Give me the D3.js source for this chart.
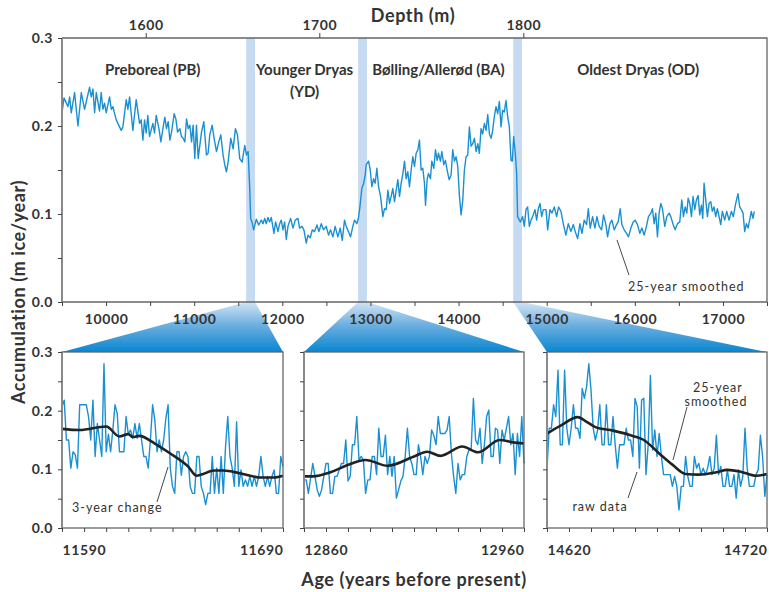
<!DOCTYPE html>
<meta charset="utf-8">
<style>
  body { margin: 0; background: #fff; }
  svg text { font-family: Lato, "Open Sans", sans-serif; fill: #333; }
  .tick text { font-size: 14px; font-weight: 700; fill: #333; letter-spacing: 0.6px; }
  .tick line { stroke: #444; }
  .domain { display: none; }
  .frame { fill: none; stroke: #666; stroke-width: 1.3; }
  .leftline { stroke: #8a8a8a; stroke-width: 2; }
  .raw { fill: none; stroke: #1a90d2; stroke-width: 1.4; stroke-linejoin: round; }
  .smooth { fill: none; stroke: #222; stroke-width: 2.6; }
  .note { font-size: 12.5px; letter-spacing: 1px; }
  .period { font-size: 15px; font-weight: 700; }
  .title { font-size: 18px; font-weight: 700; letter-spacing: 0.6px; }
</style>
<body>
<script src="https://d3js.org/d3.v7.min.js"></script>
<script>
// 25-year smoothed record, [age, accumulation]
var prebSeries = [[9500,0.215],[9523,0.232],[9568,0.222],[9587,0.233],[9605,0.215],[9643,0.238],[9681,0.200],[9719,0.238],[9756,0.219],[9813,0.244],[9832,0.233],[9851,0.242],[9870,0.215],[9889,0.238],[9926,0.217],[9945,0.238],[9964,0.219],[9983,0.226],[10002,0.215],[10040,0.233],[10059,0.219],[10078,0.222],[10115,0.207],[10172,0.195],[10191,0.199],[10229,0.230],[10248,0.219],[10267,0.233],[10304,0.195],[10342,0.230],[10380,0.203],[10399,0.207],[10418,0.184],[10437,0.207],[10455,0.192],[10474,0.212],[10493,0.188],[10531,0.203],[10550,0.192],
  [10569,0.212],[10600,0.197],[10622,0.182],[10645,0.197],[10667,0.210],[10686,0.197],[10705,0.205],[10724,0.184],[10743,0.193],[10773,0.214],[10792,0.208],[10811,0.193],[10837,0.197],[10856,0.188],[10875,0.186],[10894,0.182],[10913,0.208],[10932,0.197],[10951,0.201],[10970,0.182],[10988,0.201],[11007,0.163],[11026,0.201],[11045,0.163],[11064,0.178],[11083,0.193],[11109,0.205],[11139,0.167],[11158,0.169],[11177,0.190],[11204,0.201],[11226,0.186],[11253,0.171],[11279,0.182],[11302,0.190],[11328,0.167],[11347,0.156],[11366,0.148],[11385,0.159],[11415,0.186],[11442,0.174],[11468,0.197],[11491,0.190],[11517,0.163],[11544,0.159],[11574,0.178],[11593,0.167],[11612,0.171]];

var ydSeries = [[11630,0.130],[11641,0.095],[11656,0.091],[11675,0.082],[11705,0.094],[11732,0.0875],[11762,0.093],[11781,0.089],[11800,0.095],[11818,0.089],[11837,0.096],[11856,0.091],[11875,0.096],[11905,0.078],[11924,0.091],[11951,0.080],[11970,0.089],[11988,0.093],[12007,0.082],[12026,0.091],[12045,0.071],[12064,0.086],[12094,0.095],[12121,0.084],[12147,0.093],[12177,0.095],[12196,0.084],[12223,0.086],[12245,0.082],[12272,0.067],[12291,0.076],[12317,0.073],[12340,0.082],[12366,0.080],[12393,0.0875],[12415,0.080],[12442,0.089],[12468,0.082],[12498,0.086],[12525,0.076],[12547,0.082],[12574,0.074],[12600,0.086],[12630,0.074],[12657,0.084],[12680,0.070],[12706,0.093],[12725,0.086],[12751,0.080],[12774,0.074],[12800,0.086],[12819,0.093],[12846,0.089],[12865,0.096],[12884,0.111],[12902,0.129],[12921,0.134],[12940,0.144],[12952,0.156]];

var baSeries = [[12979,0.160],[12998,0.150],[13016,0.131],[13035,0.140],[13054,0.135],[13073,0.152],[13092,0.131],[13115,0.120],[13141,0.097],[13160,0.106],[13179,0.105],[13198,0.127],[13217,0.112],[13235,0.120],[13254,0.129],[13273,0.114],[13292,0.127],[13311,0.139],[13330,0.120],[13349,0.135],[13368,0.146],[13387,0.160],[13405,0.140],[13424,0.148],[13443,0.131],[13462,0.150],[13481,0.165],[13500,0.154],[13519,0.169],[13538,0.173],[13556,0.184],[13575,0.150],[13594,0.152],[13613,0.135],[13625,0.110],[13643,0.139],[13659,0.146],[13681,0.140],[13696,0.160],[13719,0.152],[13738,0.173],[13757,0.161],[13772,0.169],[13794,0.160],[13810,0.171],[13832,0.156],[13851,0.161],[13870,0.150],[13893,0.139],[13915,0.144],[13934,0.173],[13953,0.160],[13972,0.165],[13991,0.154],[14010,0.120],[14029,0.099],[14048,0.116],[14066,0.150],[14085,0.165],[14104,0.167],[14123,0.199],[14142,0.177],[14161,0.180],[14180,0.186],[14199,0.171],[14218,0.180],[14236,0.169],[14255,0.197],[14274,0.191],[14293,0.203],[14312,0.195],[14331,0.213],[14350,0.191],[14369,0.186],[14387,0.195],[14406,0.211],[14425,0.222],[14444,0.214],[14463,0.228],[14482,0.199],[14500,0.218],[14519,0.216],[14538,0.229],[14557,0.211],[14576,0.199],[14595,0.161],[14610,0.160],[14625,0.188],[14644,0.169],[14659,0.146],[14670,0.097],[14690,0.093]];

var odSeries = [[14701,0.091],[14727,0.097],[14746,0.086],[14765,0.105],[14784,0.108],[14803,0.086],[14822,0.093],[14841,0.097],[14867,0.105],[14886,0.093],[14905,0.106],[14924,0.112],[14943,0.097],[14962,0.105],[14992,0.105],[15011,0.082],[15037,0.105],[15060,0.101],[15086,0.108],[15113,0.097],[15135,0.108],[15162,0.103],[15188,0.089],[15218,0.076],[15245,0.089],[15275,0.080],[15302,0.088],[15324,0.080],[15351,0.072],[15377,0.089],[15400,0.078],[15426,0.093],[15453,0.088],[15472,0.106],[15494,0.084],[15521,0.097],[15547,0.084],[15570,0.097],[15596,0.086],[15623,0.082],[15645,0.099],[15672,0.088],[15691,0.074],[15717,0.089],[15740,0.093],[15766,0.082],[15793,0.088],[15811,0.091],[15834,0.106],[15853,0.088],[15879,0.082],[15906,0.078],[15928,0.074],[15955,0.084],[15981,0.091],[16004,0.093],[16030,0.088],[16057,0.078],[16080,0.084],[16106,0.076],[16132,0.086],[16155,0.097],[16182,0.101],[16200,0.106],[16219,0.089],[16238,0.101],[16257,0.074],[16276,0.101],[16295,0.112],[16314,0.106],[16340,0.086],[16363,0.097],[16389,0.101],[16408,0.097],[16435,0.088],[16457,0.082],[16484,0.089],[16510,0.091],[16533,0.116],[16552,0.097],[16571,0.108],[16590,0.101],[16605,0.118],[16624,0.112],[16643,0.097],[16661,0.120],[16680,0.105],[16699,0.116],[16718,0.121],[16737,0.099],[16756,0.110],[16771,0.095],[16786,0.135],[16805,0.116],[16824,0.097],[16843,0.112],[16862,0.114],[16880,0.103],[16899,0.108],[16918,0.097],[16937,0.106],[16956,0.097],[16975,0.088],[16994,0.103],[17020,0.093],[17043,0.103],[17069,0.093],[17096,0.103],[17118,0.097],[17145,0.112],[17171,0.123],[17190,0.108],[17209,0.105],[17228,0.101],[17247,0.080],[17266,0.089],[17285,0.084],[17303,0.093],[17322,0.103],[17341,0.095],[17356,0.103]];

var periodNames = ["Preboreal (PB)", "Younger Dryas", "Bølling/Allerød (BA)", "Oldest Dryas (OD)"];
var depthTicks = [1600, 1700, 1800];
var depthTickAges = [10450, 12420, 14735];   // age at which each depth tick sits
var zoomStarts = [11590, 12860, 14620];       // 100-year windows

// annual raw data in each window
var raw1 = [0.207,0.218,0.15,0.15,0.102,0.13,0.125,0.102,0.21,0.21,
  0.21,0.21,0.19,0.15,0.218,0.122,0.178,0.15,0.122,0.28,
  0.13,0.16,0.13,0.167,0.21,0.195,0.13,0.13,0.13,0.19,
  0.16,0.167,0.153,0.178,0.153,0.178,0.15,0.122,0.122,0.102,
  0.15,0.21,0.184,0.13,0.15,0.13,0.15,0.187,0.21,0.102,
  0.071,0.059,0.13,0.13,0.09,0.122,0.13,0.122,0.071,0.059,
  0.059,0.122,0.122,0.071,0.059,0.04,0.059,0.059,0.122,0.059,
  0.102,0.059,0.122,0.059,0.139,0.19,0.122,0.102,0.071,0.181,
  0.071,0.099,0.071,0.082,0.071,0.088,0.071,0.088,0.071,0.088,
  0.122,0.088,0.071,0.088,0.071,0.088,0.099,0.059,0.059,0.122,
  0.105];
var raw2 = [0.082,0.082,0.059,0.085,0.110,0.088,0.065,0.054,0.065,0.088,
  0.110,0.110,0.059,0.059,0.088,0.088,0.099,0.110,0.110,0.150,
  0.080,0.088,0.142,0.142,0.190,0.116,0.122,0.116,0.059,0.082,
  0.082,0.122,0.122,0.091,0.170,0.122,0.122,0.158,0.091,0.122,
  0.088,0.122,0.051,0.065,0.080,0.088,0.122,0.170,0.122,0.110,
  0.091,0.091,0.142,0.122,0.091,0.122,0.110,0.122,0.167,0.158,
  0.142,0.190,0.161,0.161,0.161,0.167,0.190,0.127,0.088,0.059,
  0.110,0.082,0.091,0.091,0.122,0.133,0.136,0.221,0.150,0.142,
  0.170,0.110,0.142,0.190,0.201,0.122,0.122,0.170,0.167,0.110,
  0.167,0.150,0.170,0.190,0.142,0.161,0.091,0.161,0.122,0.190,
  0.110];
var raw3 = [0.102,0.17,0.17,0.21,0.19,0.269,0.142,0.142,0.269,0.17,
  0.142,0.17,0.21,0.17,0.17,0.153,0.238,0.221,0.241,0.28,
  0.235,0.17,0.15,0.167,0.21,0.142,0.142,0.21,0.142,0.142,
  0.19,0.142,0.102,0.142,0.142,0.142,0.17,0.15,0.15,0.122,
  0.221,0.207,0.102,0.218,0.221,0.091,0.142,0.26,0.133,0.167,
  0.122,0.161,0.122,0.091,0.091,0.091,0.091,0.071,0.088,0.071,
  0.031,0.071,0.071,0.122,0.088,0.071,0.071,0.122,0.102,0.110,
  0.091,0.102,0.091,0.102,0.122,0.091,0.102,0.158,0.091,0.105,
  0.071,0.071,0.099,0.071,0.071,0.091,0.051,0.099,0.071,0.088,
  0.17,0.102,0.071,0.071,0.071,0.091,0.099,0.158,0.122,0.054,
  0.091];

// 25-year smoothed curves, [year in window, value]
var smooth1 = [[0,0.169],[8,0.167],[20,0.173],[26,0.156],[30,0.160],[32,0.155],[35,0.157],[42,0.144],[49,0.127],[57,0.105],[61,0.089],[63,0.091],[69,0.098],[73,0.098],[81,0.093],[90,0.086],[96,0.086],[100,0.089]];
var smooth2 = [[0,0.088],[4,0.088],[12,0.095],[19,0.106],[28,0.116],[38,0.106],[50,0.122],[56,0.130],[62,0.123],[72,0.139],[79,0.129],[89,0.150],[95,0.146],[100,0.144]];
var smooth3 = [[0,0.161],[6,0.174],[14,0.189],[18,0.181],[22,0.172],[30,0.166],[39,0.157],[44,0.150],[51,0.127],[57,0.108],[63,0.092],[69,0.091],[77,0.095],[82,0.099],[88,0.096],[95,0.089],[100,0.092]];

var yTicks = [0, 0.05, 0.1, 0.15, 0.2, 0.25, 0.3];
var ageTicks = [9500,10000,10500,11000,11500,12000,12500,13000,13500,14000,14500,15000,15500,16000,16500,17000,17500];

// layout
var W = 769, H = 592;
var tp = {l: 62, r: 767, t: 38, b: 302};
var bot = {t: 352, b: 528};
var panelX = [[62, 283], [304, 524], [547, 767]];
var periodLabelAge = [10530, 12253, 13772, 16038];

var svg = d3.select("body").append("svg")
  .attr("width", W)
  .attr("height", H);

var defs = svg.append("defs");
var grad = defs.append("linearGradient")
  .attr("id", "zoomGrad")
  .attr("gradientUnits", "userSpaceOnUse")
  .attr("x1", 0).attr("x2", 0)
  .attr("y1", tp.b).attr("y2", bot.t);
grad.append("stop").attr("offset", "0%").attr("stop-color", "#d3e4f4");
grad.append("stop").attr("offset", "45%").attr("stop-color", "#6fb0e0");
grad.append("stop").attr("offset", "100%").attr("stop-color", "#0a86cf");

var x = d3.scaleLinear().domain([9500, 17500]).range([tp.l, tp.r]);
var y = d3.scaleLinear().domain([0, 0.3]).range([tp.b, tp.t]);

// highlight bands
svg.append("g").selectAll("rect")
  .data(zoomStarts)
  .enter().append("rect")
  .attr("x", function (d) { return x(d); })
  .attr("y", tp.t)
  .attr("width", function (d) { return x(d + 100) - x(d); })
  .attr("height", tp.b - tp.t)
  .attr("fill", "#c6dbf1");

// trapezoids to the zoom panels
svg.append("g").selectAll("path")
  .data(zoomStarts)
  .enter().append("path")
  .attr("fill", "url(#zoomGrad)")
  .attr("d", function (d, i) {
    return "M" + x(d) + "," + tp.b + "L" + x(d + 100) + "," + tp.b +
      "L" + panelX[i][1] + "," + bot.t + "L" + panelX[i][0] + "," + bot.t + "Z";
  });

var line = d3.line()
  .x(function (d) { return x(d[0]); })
  .y(function (d) { return y(d[1]); });

svg.append("path")
  .datum(prebSeries.concat(ydSeries, baSeries, odSeries))
  .attr("class", "raw")
  .attr("stroke-width", 1.5)
  .attr("d", line);

// frame of the top panel
svg.append("path")
  .attr("class", "frame")
  .attr("d", "M" + tp.l + "," + tp.t + "H" + tp.r + "V" + tp.b + "H" + tp.l);
svg.append("line")
  .attr("class", "leftline")
  .attr("x1", tp.l).attr("x2", tp.l)
  .attr("y1", tp.t).attr("y2", tp.b);

var fmtY = function (d) {
  return Math.round(d * 100) % 10 === 0 ? d3.format(".1f")(d) : "";
};

svg.append("g")
  .attr("transform", "translate(" + tp.l + ",0)")
  .call(d3.axisLeft(y).tickValues(yTicks).tickSize(4).tickPadding(5).tickFormat(fmtY));

svg.append("g")
  .attr("transform", "translate(0," + tp.b + ")")
  .call(d3.axisBottom(x).tickValues(ageTicks).tickSize(4).tickPadding(8)
    .tickFormat(function (d) { return d % 1000 === 0 ? d : ""; }));

var depth = d3.scaleLinear().domain(depthTicks).range(depthTickAges.map(x));
svg.append("g")
  .attr("transform", "translate(0," + tp.t + ")")
  .call(d3.axisTop(depth).tickValues(depthTicks).tickSize(5).tickPadding(3)
    .tickFormat(d3.format("d")));

// period names
svg.append("g").selectAll("text")
  .data(periodNames)
  .enter().append("text")
  .attr("class", "period")
  .attr("x", function (d, i) { return x(periodLabelAge[i]); })
  .attr("y", 75)
  .attr("text-anchor", "middle")
  .text(function (d) { return d; });
svg.append("text")
  .attr("class", "period")
  .attr("x", x(periodLabelAge[1]))
  .attr("y", 97)
  .attr("text-anchor", "middle")
  .text("(YD)");

// annotation in top panel
svg.append("line")
  .attr("x1", 617).attr("y1", 240).attr("x2", 629).attr("y2", 275)
  .attr("stroke", "#333").attr("stroke-width", 0.9);
svg.append("text")
  .attr("class", "note")
  .attr("x", 628).attr("y", 291)
  .text("25-year smoothed");

// zoom panels
var raws = [raw1, raw2, raw3];
var smooths = [smooth1, smooth2, smooth3];
var yb = d3.scaleLinear().domain([0, 0.3]).range([bot.b, bot.t]);

zoomStarts.forEach(function (start, i) {
  var xb = d3.scaleLinear().domain([0, 100]).range(panelX[i]);
  var g = svg.append("g");

  g.append("path")
    .datum(raws[i])
    .attr("class", "raw")
    .attr("d", d3.line()
      .x(function (d, k) { return xb(k); })
      .y(function (d) { return yb(d); }));

  g.append("path")
    .datum(smooths[i])
    .attr("class", "smooth")
    .attr("d", d3.line()
      .curve(d3.curveMonotoneX)
      .x(function (d) { return xb(d[0]); })
      .y(function (d) { return yb(d[1]); }));

  g.append("rect")
    .attr("class", "frame")
    .attr("x", panelX[i][0]).attr("y", bot.t)
    .attr("width", panelX[i][1] - panelX[i][0])
    .attr("height", bot.b - bot.t);
  g.append("line")
    .attr("class", "leftline")
    .attr("x1", panelX[i][0]).attr("x2", panelX[i][0])
    .attr("y1", bot.t).attr("y2", bot.b);

  g.append("g")
    .attr("transform", "translate(" + panelX[i][0] + ",0)")
    .call(d3.axisLeft(yb).tickValues(yTicks).tickSize(4).tickPadding(5)
      .tickFormat(i === 0 ? fmtY : function () { return ""; }));

  var xa = g.append("g")
    .attr("transform", "translate(0," + bot.b + ")")
    .call(d3.axisBottom(xb).tickValues(d3.range(0, 101, 10)).tickSize(4).tickPadding(13)
      .tickFormat(function (d) { return d === 0 || d === 100 ? start + d : ""; }));
  xa.selectAll(".tick text")
    .attr("text-anchor", function (d) { return d === 0 ? "start" : "end"; });
});

// annotations in zoom panels
var notes = svg.append("g");
notes.append("line").attr("x1", 168).attr("y1", 467).attr("x2", 157).attr("y2", 502);
notes.append("line").attr("x1", 687).attr("y1", 407).attr("x2", 673).attr("y2", 460);
notes.append("line").attr("x1", 637).attr("y1", 472).attr("x2", 628).attr("y2", 498);
notes.selectAll("line").attr("stroke", "#333").attr("stroke-width", 0.9);
notes.append("text").attr("class", "note").attr("x", 72).attr("y", 512).text("3-year change");
notes.append("text").attr("class", "note").attr("x", 718).attr("y", 392).attr("text-anchor", "middle").text("25-year");
notes.append("text").attr("class", "note").attr("x", 716).attr("y", 406).attr("text-anchor", "middle").text("smoothed");
notes.append("text").attr("class", "note").attr("x", 600).attr("y", 511).attr("text-anchor", "middle").text("raw data");

// axis titles
svg.append("text")
  .attr("class", "title")
  .attr("x", 413).attr("y", 22)
  .attr("text-anchor", "middle")
  .text("Depth (m)");
svg.append("text")
  .attr("class", "title")
  .attr("x", 414).attr("y", 586)
  .attr("text-anchor", "middle")
  .text("Age (years before present)");
svg.append("text")
  .attr("class", "title")
  .attr("transform", "translate(25,292) rotate(-90)")
  .attr("text-anchor", "middle")
  .text("Accumulation (m ice/year)");
</script>
</body>
